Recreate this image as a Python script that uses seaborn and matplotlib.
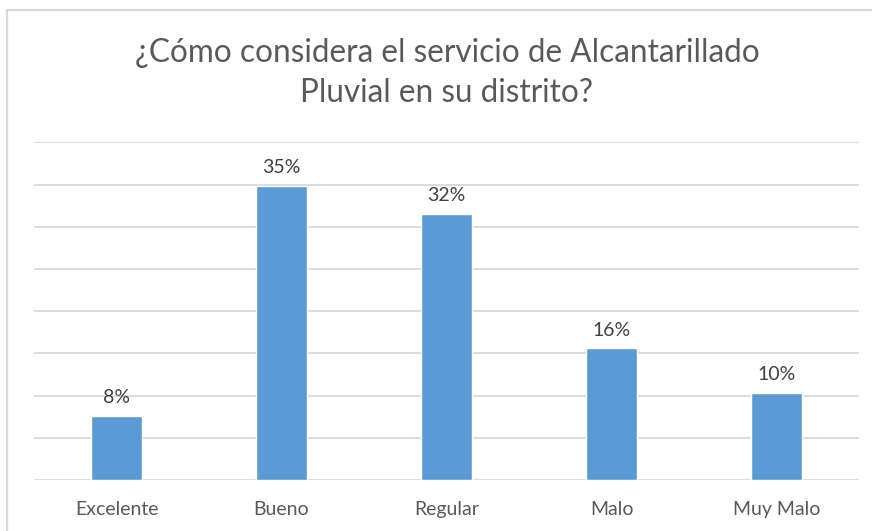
import matplotlib
matplotlib.use("Agg")
import matplotlib.pyplot as plt
import seaborn as sns
import pandas as pd
from matplotlib.lines import Line2D

categories = ["Excelente", "Bueno", "Regular", "Malo", "Muy Malo"]
values = [0.076, 0.348, 0.315, 0.156, 0.103]
labels = ["8%", "35%", "32%", "16%", "10%"]
title = "¿Cómo considera el servicio de Alcantarillado\nPluvial en su distrito?"

sns.set_theme(style="white")
plt.rcParams["font.family"] = ["Lato", "DejaVu Sans"]

df = pd.DataFrame({"cat": categories, "val": values})

W, H = 872, 531
fig = plt.figure(figsize=(W / 100, H / 100), dpi=100)
fig.patch.set_facecolor("white")
ax = fig.add_axes([34 / W, (H - 480) / H, (859 - 34) / W, (480 - 142.3) / H])

sns.barplot(data=df, x="cat", y="val", color="#5B9BD5", width=0.31,
            saturation=1, ax=ax, zorder=3)

ax.set_ylim(0, 0.40)
ax.set_xlim(-0.5, len(categories) - 0.5)
ax.set_yticks([i * 0.05 for i in range(9)])
ax.yaxis.grid(True, color="#d9d9d9", linewidth=1.3, zorder=0)
ax.xaxis.grid(False)
ax.tick_params(axis="y", left=False, labelleft=False)
ax.tick_params(axis="x", bottom=False, pad=9, colors="#595959")
for lbl in ax.get_xticklabels():
    lbl.set_fontsize(14)
for s in ax.spines.values():
    s.set_visible(False)
ax.set_xlabel("")
ax.set_ylabel("")

for i, (v, t) in enumerate(zip(values, labels)):
    ax.annotate(t, xy=(i, v), xytext=(0, 7), textcoords="offset points",
                ha="center", va="bottom", fontsize=14, color="#404040")

fig.text(447 / W, 1 - 73 / H, title, ha="center", va="center",
         fontsize=22.7, color="#595959", linespacing=1.42)

# chart frame (left and top edges visible)
fig.add_artist(Line2D([7 / W, 7 / W], [0, 1 - 9.5 / H], transform=fig.transFigure,
                      color="#d9d9d9", linewidth=1.6))
fig.add_artist(Line2D([7 / W, 1], [1 - 9.5 / H, 1 - 9.5 / H], transform=fig.transFigure,
                      color="#d9d9d9", linewidth=1.6))

fig.savefig("out.png", dpi=100, facecolor="white")
